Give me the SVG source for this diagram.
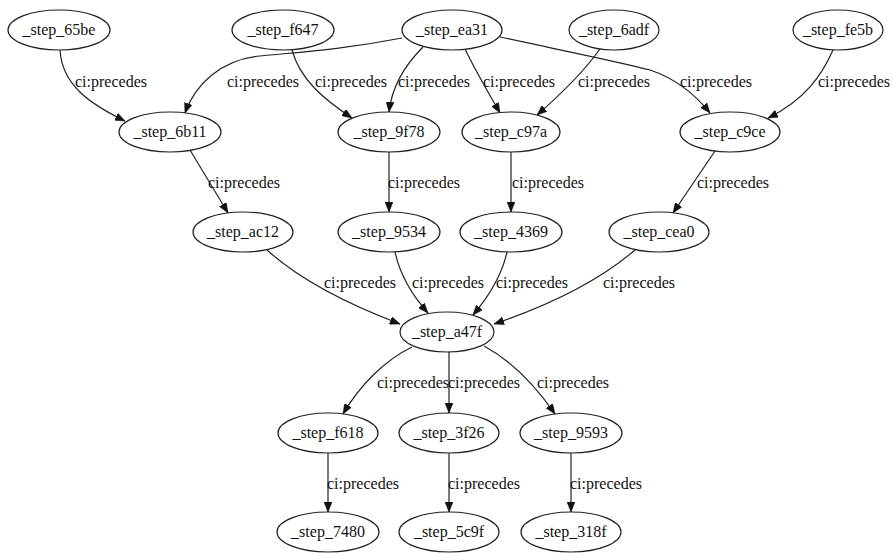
<svg xmlns="http://www.w3.org/2000/svg" width="893" height="553" viewBox="0 0 893 553">
<style>
.n ellipse{fill:#fff;stroke:#222;stroke-width:1.2}
.n text{font-family:"Liberation Serif","Times New Roman",serif;font-size:16px;fill:#111;text-anchor:middle}
.e path{fill:none;stroke:#222;stroke-width:1.2;marker-end:url(#ah)}
.e text{font-family:"Liberation Serif","Times New Roman",serif;font-size:16px;fill:#111}
</style>
<defs>
<marker id="ah" viewBox="0 0 10 8" refX="10" refY="4" markerWidth="10" markerHeight="8" markerUnits="userSpaceOnUse" orient="auto">
<path d="M0,0 L10,4 L0,8 Z" fill="#111" stroke="#111" stroke-width="0.5"/>
</marker>
</defs>
<rect width="893" height="553" fill="#fff"/>
<g id="edges" class="e">
<path d="M60,50 C62,85 90,104 125,121"/>
<path d="M402,38 C340,50 300,52 260,56 C220,60 195,85 185,113"/>
<path d="M292,50 C300,80 325,100 352,118"/>
<path d="M423,47 C405,65 392,85 389,112"/>
<path d="M465,49 C475,70 488,92 500,113"/>
<path d="M600,49 C585,70 560,95 537,115"/>
<path d="M500,37 C560,50 620,62 650,70 C680,80 698,98 710,113"/>
<path d="M833,50 C822,75 805,100 768,118"/>
<path d="M190,150 L228,213"/>
<path d="M389,152 L389,212"/>
<path d="M511,152 L511,212"/>
<path d="M715,151 L673,213"/>
<path d="M267,250 C300,280 350,305 400,324"/>
<path d="M395,252 C400,275 412,295 428,313"/>
<path d="M507,252 C502,275 490,295 473,315"/>
<path d="M635,250 C600,280 550,305 494,324"/>
<path d="M412,347 C385,360 360,385 343,414"/>
<path d="M449,352 L449,413"/>
<path d="M484,346 C510,360 535,385 555,414"/>
<path d="M328,453 L328,512"/>
<path d="M449,453 L449,512"/>
<path d="M571,453 L571,512"/>
<text x="75" y="87">ci:precedes</text>
<text x="227" y="87">ci:precedes</text>
<text x="315" y="87">ci:precedes</text>
<text x="398" y="87">ci:precedes</text>
<text x="483" y="87">ci:precedes</text>
<text x="578" y="87">ci:precedes</text>
<text x="680" y="87">ci:precedes</text>
<text x="818" y="87">ci:precedes</text>
<text x="208" y="188">ci:precedes</text>
<text x="388" y="188">ci:precedes</text>
<text x="512" y="188">ci:precedes</text>
<text x="697" y="188">ci:precedes</text>
<text x="324" y="288">ci:precedes</text>
<text x="412" y="288">ci:precedes</text>
<text x="496" y="288">ci:precedes</text>
<text x="603" y="288">ci:precedes</text>
<text x="377" y="388">ci:precedes</text>
<text x="448" y="388">ci:precedes</text>
<text x="537" y="388">ci:precedes</text>
<text x="327" y="489">ci:precedes</text>
<text x="448" y="489">ci:precedes</text>
<text x="570" y="489">ci:precedes</text>
</g>
<g id="n_65be" class="n"><ellipse cx="59" cy="30" rx="51" ry="20"/><text x="59" y="35">_step_65be</text></g>
<g id="n_f647" class="n"><ellipse cx="283" cy="30" rx="51" ry="20"/><text x="283" y="35">_step_f647</text></g>
<g id="n_ea31" class="n"><ellipse cx="452" cy="30" rx="50" ry="20"/><text x="452" y="35">_step_ea31</text></g>
<g id="n_6adf" class="n"><ellipse cx="614" cy="30" rx="45" ry="20"/><text x="614" y="35">_step_6adf</text></g>
<g id="n_fe5b" class="n"><ellipse cx="838" cy="30" rx="45" ry="20"/><text x="838" y="35">_step_fe5b</text></g>
<g id="n_6b11" class="n"><ellipse cx="170" cy="132" rx="51" ry="20"/><text x="170" y="137">_step_6b11</text></g>
<g id="n_9f78" class="n"><ellipse cx="389" cy="132" rx="51" ry="20"/><text x="389" y="137">_step_9f78</text></g>
<g id="n_c97a" class="n"><ellipse cx="511" cy="132" rx="49" ry="20"/><text x="511" y="137">_step_c97a</text></g>
<g id="n_c9ce" class="n"><ellipse cx="730" cy="132" rx="50" ry="20"/><text x="730" y="137">_step_c9ce</text></g>
<g id="n_ac12" class="n"><ellipse cx="243" cy="232" rx="50" ry="20"/><text x="243" y="237">_step_ac12</text></g>
<g id="n_9534" class="n"><ellipse cx="389" cy="232" rx="51" ry="20"/><text x="389" y="237">_step_9534</text></g>
<g id="n_4369" class="n"><ellipse cx="511" cy="232" rx="51" ry="20"/><text x="511" y="237">_step_4369</text></g>
<g id="n_cea0" class="n"><ellipse cx="659" cy="232" rx="50" ry="20"/><text x="659" y="237">_step_cea0</text></g>
<g id="n_a47f" class="n"><ellipse cx="447" cy="332" rx="47" ry="20"/><text x="447" y="337">_step_a47f</text></g>
<g id="n_f618" class="n"><ellipse cx="328" cy="433" rx="50" ry="20"/><text x="328" y="438">_step_f618</text></g>
<g id="n_3f26" class="n"><ellipse cx="449" cy="433" rx="50" ry="20"/><text x="449" y="438">_step_3f26</text></g>
<g id="n_9593" class="n"><ellipse cx="571" cy="433" rx="51" ry="20"/><text x="571" y="438">_step_9593</text></g>
<g id="n_7480" class="n"><ellipse cx="328" cy="532" rx="51" ry="20"/><text x="328" y="537">_step_7480</text></g>
<g id="n_5c9f" class="n"><ellipse cx="449" cy="532" rx="50" ry="20"/><text x="449" y="537">_step_5c9f</text></g>
<g id="n_318f" class="n"><ellipse cx="571" cy="532" rx="50" ry="20"/><text x="571" y="537">_step_318f</text></g>
</svg>
